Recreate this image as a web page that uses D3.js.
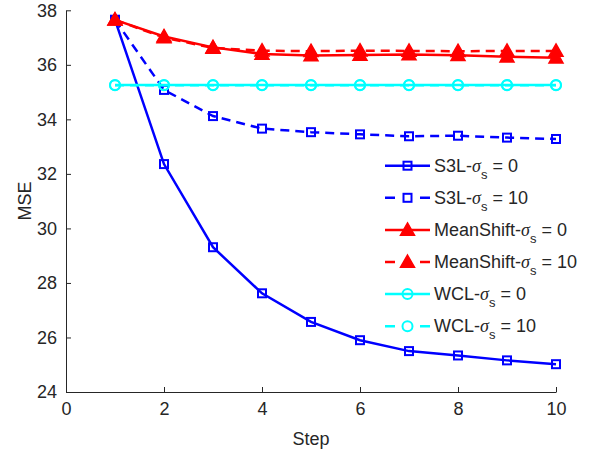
<!DOCTYPE html>
<html>
<head>
<meta charset="utf-8">
<script src="https://cdn.jsdelivr.net/npm/d3@7"></script>
<style>
  body { margin: 0; background: #fff; }
  text { font-family: "Liberation Sans", Arial, sans-serif; fill: #262626; }
</style>
</head>
<body>
<div id="chart"></div>
<script>
var svgWidth = 597;
var svgHeight = 452;

// Chart data
var steps = [1, 2, 3, 4, 5, 6, 7, 8, 9, 10];
var s3l0 = [37.65, 32.36, 29.31, 27.62, 26.57, 25.90, 25.50, 25.34, 25.16, 25.02];
var s3l10 = [37.65, 35.08, 34.12, 33.66, 33.53, 33.45, 33.38, 33.40, 33.33, 33.28];
var ms0 = [37.65, 37.04, 36.64, 36.40, 36.34, 36.36, 36.38, 36.35, 36.30, 36.26];
var ms10 = [37.65, 37.00, 36.62, 36.52, 36.50, 36.52, 36.51, 36.50, 36.51, 36.51];
var wcl0 = [35.26, 35.26, 35.26, 35.26, 35.26, 35.26, 35.26, 35.26, 35.26, 35.26];
var wcl10 = [35.25, 35.25, 35.25, 35.25, 35.25, 35.25, 35.25, 35.25, 35.25, 35.25];
var xTicks = [0, 2, 4, 6, 8, 10];
var yTicks = [24, 26, 28, 30, 32, 34, 36, 38];

var series = [
  { name: "S3L", sigma: "0", values: s3l0, color: "#0000ff", dash: null, marker: "square" },
  { name: "S3L", sigma: "10", values: s3l10, color: "#0000ff", dash: "9,6", marker: "square" },
  { name: "MeanShift", sigma: "0", values: ms0, color: "#ff0000", dash: null, marker: "triangle" },
  { name: "MeanShift", sigma: "10", values: ms10, color: "#ff0000", dash: "9,6", marker: "triangle" },
  { name: "WCL", sigma: "0", values: wcl0, color: "#00ffff", dash: null, marker: "circle" },
  { name: "WCL", sigma: "10", values: wcl10, color: "#00ffff", dash: "9,6", marker: "circle" }
];

var svg = d3.select("#chart")
  .append("svg")
  .attr("width", svgWidth)
  .attr("height", svgHeight);

var x = d3.scaleLinear().domain([0, 10]).range([66, 556]);
var y = d3.scaleLinear().domain([24, 38]).range([392, 10.3]);

// Axes (MATLAB style, box off, ticks inward)
var xAxis = svg.append("g")
  .attr("transform", "translate(0,392)")
  .call(d3.axisBottom(x).tickValues(xTicks).tickSize(-5).tickPadding(10).tickSizeOuter(0));
var yAxis = svg.append("g")
  .attr("transform", "translate(66,0)")
  .call(d3.axisLeft(y).tickValues(yTicks).tickSize(-5).tickPadding(9).tickSizeOuter(0));

[xAxis, yAxis].forEach(function(g) {
  g.select(".domain").attr("stroke", "#262626").attr("stroke-width", 1);
  g.selectAll(".tick line").attr("stroke", "#262626");
  g.selectAll(".tick text")
    .attr("font-size", "18px")
    .attr("font-family", "Liberation Sans, Arial, sans-serif")
    .attr("fill", "#262626");
});

// Axis labels
svg.append("text")
  .attr("x", 311)
  .attr("y", 445)
  .attr("text-anchor", "middle")
  .attr("font-size", "18px")
  .text("Step");

svg.append("text")
  .attr("transform", "translate(31,201) rotate(-90)")
  .attr("text-anchor", "middle")
  .attr("font-size", "18px")
  .text("MSE");

var line = d3.line()
  .x(function(d, i) { return x(steps[i]); })
  .y(function(d) { return y(d); });

function drawMarker(g, type, cx, cy, color) {
  if (type === "square") {
    g.append("rect")
      .attr("x", cx - 4).attr("y", cy - 4)
      .attr("width", 8).attr("height", 8)
      .attr("fill", "none").attr("stroke", color).attr("stroke-width", 2);
  } else if (type === "triangle") {
    var s = 7;
    g.append("path")
      .attr("d", "M" + cx + "," + (cy - s) + "L" + (cx + s) + "," + (cy + s * 0.75) + "L" + (cx - s) + "," + (cy + s * 0.75) + "Z")
      .attr("fill", color).attr("stroke", color).attr("stroke-width", 1.5);
  } else {
    g.append("circle")
      .attr("cx", cx).attr("cy", cy).attr("r", 5)
      .attr("fill", "none").attr("stroke", color).attr("stroke-width", 2);
  }
}

series.forEach(function(s) {
  var g = svg.append("g");
  g.append("path")
    .datum(s.values)
    .attr("d", line)
    .attr("fill", "none")
    .attr("stroke", s.color)
    .attr("stroke-width", 2.5)
    .attr("stroke-dasharray", s.dash);
  s.values.forEach(function(v, i) {
    drawMarker(g, s.marker, x(steps[i]), y(v), s.color);
  });
});

// Legend
var legend = svg.append("g");
series.forEach(function(s, i) {
  var ly = 165.7 + i * 32.1;
  var lg = legend.append("g");
  lg.append("line")
    .attr("x1", 385).attr("x2", 430)
    .attr("y1", ly).attr("y2", ly)
    .attr("stroke", s.color)
    .attr("stroke-width", 2.5)
    .attr("stroke-dasharray", s.dash ? "10,25" : null);
  drawMarker(lg, s.marker, 407.5, ly, s.color);
  var t = lg.append("text")
    .attr("x", 434)
    .attr("y", ly + 6)
    .attr("font-size", "18px");
  t.append("tspan").text(s.name + "-");
  t.append("tspan").attr("font-style", "italic").attr("font-family", "Liberation Serif, serif").text("\u03c3");
  t.append("tspan").attr("font-size", "13px").attr("dy", 7).text("s");
  t.append("tspan").attr("dy", -7).text(" = " + s.sigma);
});
</script>
</body>
</html>
